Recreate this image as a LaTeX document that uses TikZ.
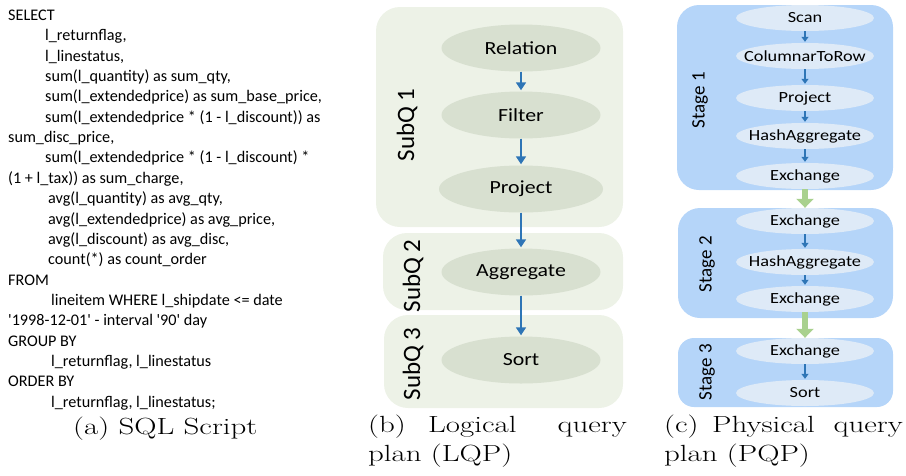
\documentclass[tikz,border=0pt]{standalone}
\usepackage{fontspec}
\usetikzlibrary{shapes.geometric,arrows.meta}
\newfontfamily\sqlfont{Carlito}
\newfontfamily\opfont{Carlito}[FakeStretch=1.18]
\newfontfamily\capfont{Latin Modern Roman}[FakeStretch=1.32]
\definecolor{subfill}{HTML}{EDF2E7}
\definecolor{lqpfill}{HTML}{D8E0D0}
\definecolor{stagefill}{HTML}{B5D5F9}
\definecolor{pqpfill}{HTML}{DEEAF7}
\definecolor{arrowblue}{HTML}{2E75B6}
\definecolor{arrowgreen}{HTML}{A9D18E}
\begin{document}
\begin{tikzpicture}[x=1pt,y=-1pt,
  subbox/.style={fill=subfill, rounded corners=24pt},
  stagebox/.style={fill=stagefill, rounded corners=22pt},
  lqp/.style={ellipse, fill=lqpfill, minimum width=159pt, minimum height=47pt, inner sep=0pt,
    font=\opfont\fontsize{18.5}{20}\selectfont},
  pqp/.style={ellipse, fill=pqpfill, minimum width=138pt, minimum height=26pt, inner xsep=-20pt, inner ysep=0pt,
    font=\opfont\fontsize{15.5}{17}\selectfont},
  blarrow/.style={draw=arrowblue, line width=1.6pt, shorten >=1pt, -{Triangle[width=10pt,length=8pt]}},
  sblarrow/.style={draw=arrowblue, line width=1.3pt, shorten >=1pt, -{Triangle[width=7pt,length=5pt]}},
  grarrow/.style={draw=arrowgreen, line width=6pt, -{Triangle[width=17pt,length=9pt]}},
  sublabel/.style={rotate=90, inner sep=0pt, font=\sqlfont\fontsize{25}{25}\selectfont},
  stagelabel/.style={rotate=90, inner sep=0pt, font=\sqlfont\fontsize{19}{19}\selectfont},
  captext/.style={anchor=base west, inner sep=0pt, font=\capfont\fontsize{23.4}{28}\selectfont},
  capend/.style={captext, anchor=base east}
]
\useasboundingbox (0,0) rectangle (906,475);

% ---------- (a) SQL script ----------
\node[anchor=base west, inner sep=0pt] (sql) at (8,20.5) {\parbox[t]{360pt}{\raggedright
\sqlfont\fontsize{16.2}{20.35}\selectfont
SELECT\\
\hspace*{37pt}l\_returnflag,\\
\hspace*{37pt}l\_linestatus,\\
\hspace*{37pt}sum(l\_quantity) as sum\_qty,\\
\hspace*{37pt}sum(l\_extendedprice) as sum\_base\_price,\\
\hspace*{37pt}sum(l\_extendedprice * (1 - l\_discount)) as\\
sum\_disc\_price,\\
\hspace*{37pt}sum(l\_extendedprice * (1 - l\_discount) *\\
(1 + l\_tax)) as sum\_charge,\\
\hspace*{40pt}avg(l\_quantity) as avg\_qty,\\
\hspace*{40pt}avg(l\_extendedprice) as avg\_price,\\
\hspace*{40pt}avg(l\_discount) as avg\_disc,\\
\hspace*{40pt}count(*) as count\_order\\
FROM\\
\hspace*{43pt}lineitem WHERE l\_shipdate <= date\\
\textquotesingle 1998-12-01\textquotesingle\ - interval \textquotesingle 90\textquotesingle\ day\\
GROUP BY\\
\hspace*{43pt}l\_returnflag, l\_linestatus\\
ORDER BY\\
\hspace*{43pt}l\_returnflag, l\_linestatus;}};

\node[captext] (capa) at (73,434) {(a) SQL Script};

% ---------- (b) Logical query plan ----------
\path[subbox] (376,7) rectangle (623,227);
\path[subbox] (383,233) rectangle (623,310);
\path[subbox] (384,315) rectangle (623,408);

\node[sublabel] (sq1) at (407,125) {SubQ 1};
\node[sublabel] (sq2) at (413,276) {SubQ 2};
\node[sublabel] (sq3) at (413,364) {SubQ 3};

\node[lqp] (rel) at (521,48) {Relation};
\node[lqp] (fil) at (521,115) {Filter};
\node[lqp, minimum width=164pt] (proj) at (521,189) {Project};
\node[lqp] (agg) at (521,272) {Aggregate};
\node[lqp] (sort) at (521,360) {Sort};

\draw[blarrow] (rel) -- (fil);
\draw[blarrow] (fil) -- (proj);
\draw[blarrow] (proj) -- (agg);
\draw[blarrow] (agg) -- (sort);

\node[captext] (capb1) at (368,432) {(b)};
\node[captext] (capb2) at (428,432) {Logical};
\node[capend] (capb3) at (627,432) {query};
\node[captext] (capb4) at (368,461) {plan (LQP)};

% ---------- (c) Physical query plan ----------
\path[stagebox] (677,5) rectangle (893,190);
\path[stagebox] (678,208) rectangle (893,318);
\path[stagebox, rounded corners=16pt] (678,338) rectangle (893,407);

\node[stagelabel] (st1) at (700,100) {Stage 1};
\node[stagelabel] (st2) at (707,264) {Stage 2};
\node[stagelabel] (st3) at (707,372) {Stage 3};

\node[pqp] (scan) at (805,18) {Scan};
\node[pqp] (c2r) at (805,56) {ColumnarToRow};
\node[pqp] (pproj) at (805,98) {Project};
\node[pqp] (hagg1) at (805,136) {HashAggregate};
\node[pqp] (ex1) at (805,176) {Exchange};

\node[pqp] (ex2) at (805,221) {Exchange};
\node[pqp] (hagg2) at (805,262) {HashAggregate};
\node[pqp] (ex3) at (805,299) {Exchange};

\node[pqp] (ex4) at (805,351) {Exchange};
\node[pqp] (psort) at (805,393) {Sort};

\draw[sblarrow] (scan) -- (c2r);
\draw[sblarrow] (c2r) -- (pproj);
\draw[sblarrow] (pproj) -- (hagg1);
\draw[sblarrow] (hagg1) -- (ex1);
\draw[sblarrow] (ex2) -- (hagg2);
\draw[sblarrow] (hagg2) -- (ex3);
\draw[sblarrow] (ex4) -- (psort);

\draw[grarrow] (ex1) -- (ex2);
\draw[grarrow] (ex3) -- (ex4);

\node[captext] (capc1) at (664,432) {(c)};
\node[captext] (capc2) at (712,432) {Physical};
\node[capend] (capc3) at (903,432) {query};
\node[captext] (capc4) at (664,461) {plan (PQP)};
\end{tikzpicture}
\end{document}
